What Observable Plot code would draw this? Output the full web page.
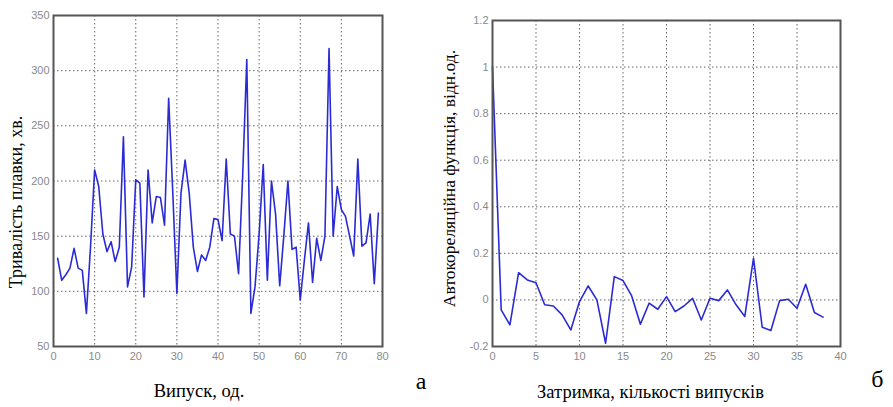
<!DOCTYPE html>
<html>
<head>
<meta charset="utf-8">
<script src="https://cdn.jsdelivr.net/npm/d3@7"></script>
<script src="https://cdn.jsdelivr.net/npm/@observablehq/plot@0.6"></script>
<style>
  html, body { margin: 0; padding: 0; background: #fff; }
  #wrap { position: relative; width: 893px; height: 407px; overflow: hidden; }
  #left { position: absolute; left: 0; top: 0; }
  #right { position: absolute; left: 430px; top: 0; }
  svg { background: transparent !important; overflow: visible; }
</style>
</head>
<body>
<div id="wrap"><div id="left"></div><div id="right"></div></div>
<script>
// ---- Data ----
// Left: melt duration per tap (випуск 1..79), minutes
const durations = [130, 110, 115, 121, 139, 121, 119, 80, 140, 210,
                   195, 152, 136, 145, 127, 140, 240, 104, 122, 201,
                   198, 95, 210, 162, 186, 185, 160, 275, 190, 98,
                   189, 219, 189, 140, 118, 133, 128, 140, 166, 165,
                   146, 220, 152, 150, 116, 205, 310, 80, 104, 152,
                   215, 110, 200, 170, 105, 150, 200, 138, 140, 92,
                   128, 162, 108, 148, 128, 150, 320, 150, 195, 174,
                   168, 150, 132, 220, 141, 144, 170, 107, 171];
// Right: autocorrelation function at lags 0..38
const acf = [1.0, -0.043, -0.107, 0.117, 0.086, 0.074, -0.021, -0.026, -0.064, -0.129,
             -0.007, 0.06, 0.0, -0.186, 0.1, 0.083, 0.017, -0.104, -0.014, -0.04,
             0.014, -0.05, -0.026, 0.007, -0.086, 0.007, -0.003, 0.043, -0.021, -0.071,
             0.179, -0.117, -0.131, -0.003, 0.003, -0.036, 0.067, -0.054, -0.074];

const leftXTicks = [0, 10, 20, 30, 40, 50, 60, 70, 80];
const leftYTicks = [50, 100, 150, 200, 250, 300, 350];
const rightXTicks = [0, 5, 10, 15, 20, 25, 30, 35, 40];
const rightYTicks = [-0.2, 0, 0.2, 0.4, 0.6, 0.8, 1, 1.2];

const leftYLabel = "Тривалість плавки, хв.";
const leftXLabel = "Випуск, од.";
const leftTag = "а";
const rightYLabel = "Автокореляційна функція, відн.од.";
const rightXLabel = "Затримка, кількості випусків";
const rightTag = "б";

const durRows = durations.map((v, i) => ({x: i + 1, y: v}));
const acfRows = acf.map((v, i) => ({x: i, y: v}));

const tickFont = "Liberation Sans, Arial, sans-serif";
const serif = "Liberation Serif, Times New Roman, serif";
const gridStyle = {stroke: "#333", strokeOpacity: 0.75, strokeDasharray: "1.5,2.5", strokeWidth: 1};
const lineColor = "#2b2bd6";
const fmt = d => String(+d.toFixed(1));

const left = Plot.plot({
  width: 430, height: 407,
  marginLeft: 53, marginRight: 48, marginTop: 15, marginBottom: 61,
  style: {fontFamily: tickFont, fontSize: "11px", color: "#888", background: "transparent", overflow: "visible"},
  x: {domain: [0, 80]},
  y: {domain: [50, 350]},
  marks: [
    Plot.gridX(leftXTicks, gridStyle),
    Plot.gridY(leftYTicks, gridStyle),
    Plot.axisX(leftXTicks, {tickSize: 0, tickPadding: 6, label: null, tickFormat: fmt, fill: "#8a8a8a"}),
    Plot.axisY(leftYTicks, {tickSize: 0, tickPadding: 4, label: null, tickFormat: fmt, fill: "#8a8a8a"}),
    Plot.line(durRows, {x: "x", y: "y", stroke: lineColor, strokeWidth: 1.6}),
    Plot.frame({stroke: "#555", strokeWidth: 2}),
    Plot.text([leftYLabel], {text: d => d, frameAnchor: "left", dx: -37, dy: 21, rotate: -90,
      fontFamily: serif, fontSize: 18, fill: "#000", lineAnchor: "middle", textAnchor: "middle"}),
    Plot.text([leftXLabel], {text: d => d, frameAnchor: "bottom", dx: -19, dy: 45,
      fontFamily: serif, fontSize: 18.5, fill: "#000", lineAnchor: "middle"}),
    Plot.text([leftTag], {text: d => d, frameAnchor: "bottom-right", dx: 44, dy: 35,
      fontFamily: serif, fontSize: 24, fill: "#000", lineAnchor: "middle"})
  ]
});
document.getElementById("left").appendChild(left);

const right = Plot.plot({
  width: 463, height: 407,
  marginLeft: 62, marginRight: 53, marginTop: 20, marginBottom: 61,
  style: {fontFamily: tickFont, fontSize: "11px", color: "#888", background: "transparent", overflow: "visible"},
  x: {domain: [0, 40]},
  y: {domain: [-0.2, 1.2]},
  marks: [
    Plot.gridX(rightXTicks, gridStyle),
    Plot.gridY(rightYTicks, gridStyle),
    Plot.axisX(rightXTicks, {tickSize: 0, tickPadding: 6, label: null, tickFormat: fmt, fill: "#8a8a8a"}),
    Plot.axisY(rightYTicks, {tickSize: 0, tickPadding: 4, label: null, tickFormat: fmt, fill: "#8a8a8a"}),
    Plot.line(acfRows, {x: "x", y: "y", stroke: lineColor, strokeWidth: 1.6}),
    Plot.frame({stroke: "#555", strokeWidth: 2}),
    Plot.text([rightYLabel], {text: d => d, frameAnchor: "left", dx: -43, dy: -5, rotate: -90,
      fontFamily: serif, fontSize: 17.5, fill: "#000", lineAnchor: "middle", textAnchor: "middle"}),
    Plot.text([rightXLabel], {text: d => d, frameAnchor: "bottom", dx: -16, dy: 46,
      fontFamily: serif, fontSize: 18.5, fill: "#000", lineAnchor: "middle"}),
    Plot.text([rightTag], {text: d => d, frameAnchor: "bottom-right", dx: 43, dy: 33,
      fontFamily: serif, fontSize: 24, fill: "#000", lineAnchor: "middle"})
  ]
});
document.getElementById("right").appendChild(right);
</script>
</body>
</html>
